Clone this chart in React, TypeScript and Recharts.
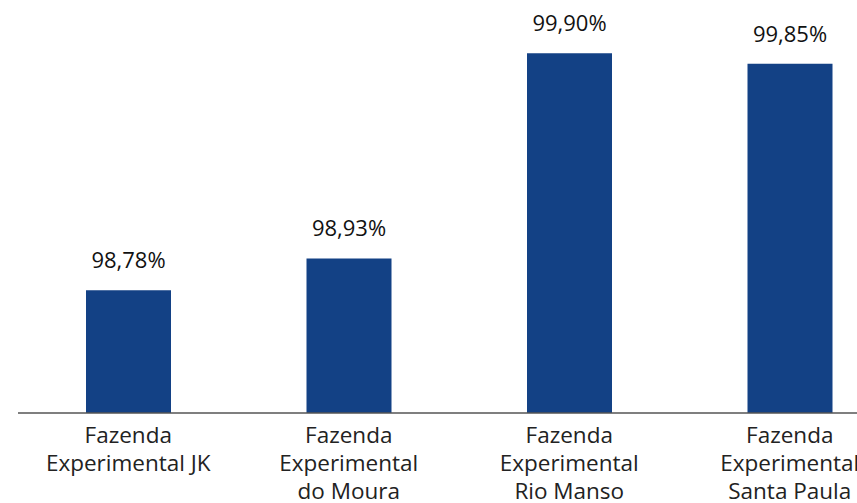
import React from 'react';
import { BarChart, Bar, XAxis, YAxis, LabelList } from 'recharts';

const farms = [
  'Fazenda\nExperimental JK',
  'Fazenda\nExperimental\ndo Moura',
  'Fazenda\nExperimental\nRio Manso',
  'Fazenda\nExperimental\nSanta Paula',
];
const rates = [98.78, 98.93, 99.9, 99.85];

const data = farms.map((farm, i) => ({ farm, rate: rates[i] }));

const FONT = '"Open Sans", "Noto Sans", sans-serif';

const formatPct = (v: number) => v.toFixed(2).replace('.', ',') + '%';

const FarmTick = (props: any) => {
  const { x, y, payload } = props;
  const lines: string[] = String(payload.value).split('\n');
  return (
    <text
      x={x}
      y={y}
      textAnchor="middle"
      fill="#222"
      fontSize={22.5}
      fontFamily={FONT}
    >
      {lines.map((line, i) => (
        <tspan key={i} x={x} dy={i === 0 ? 22 : 28}>
          {line}
        </tspan>
      ))}
    </text>
  );
};

const App: React.FC = () => {
  return (
    <div
      style={{
        position: 'fixed',
        left: 0,
        top: 0,
        width: 857,
        height: 503,
        overflow: 'hidden',
        background: '#fff',
      }}
    >
      <BarChart
        width={900}
        height={503}
        data={data}
        margin={{ top: 32, right: 0, left: 18, bottom: 0 }}
      >
        <XAxis
          dataKey="farm"
          interval={0}
          height={90}
          tickLine={false}
          axisLine={{ stroke: '#555', strokeWidth: 1.5 }}
          tick={<FarmTick />}
        />
        <YAxis hide domain={[98.2, 100]} allowDataOverflow />
        <Bar dataKey="rate" fill="#134185" barSize={85} isAnimationActive={false}>
          <LabelList
            dataKey="rate"
            position="top"
            offset={22}
            formatter={(v: any) => formatPct(Number(v))}
            style={{ fill: '#111', fontSize: 22, fontFamily: FONT }}
          />
        </Bar>
      </BarChart>
    </div>
  );
};

export default App;
